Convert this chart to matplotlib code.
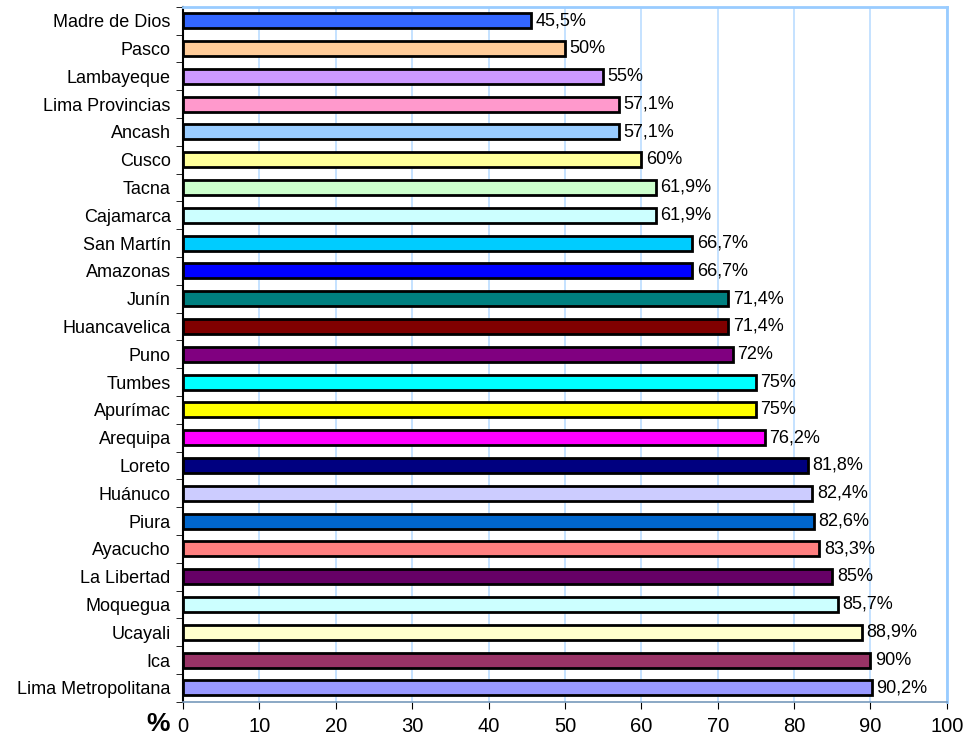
import matplotlib
matplotlib.use("Agg")
import matplotlib.pyplot as plt
import numpy as np

plt.rcParams['font.family'] = ['Liberation Sans', 'DejaVu Sans']

# data, top to bottom as in the picture
regions = ["Madre de Dios", "Pasco", "Lambayeque", "Lima Provincias", "Ancash",
           "Cusco", "Tacna", "Cajamarca", "San Martín", "Amazonas", "Junín",
           "Huancavelica", "Puno", "Tumbes", "Apurímac", "Arequipa", "Loreto",
           "Huánuco", "Piura", "Ayacucho", "La Libertad", "Moquegua", "Ucayali",
           "Ica", "Lima Metropolitana"]
values = [45.5, 50, 55, 57.1, 57.1, 60, 61.9, 61.9, 66.7, 66.7, 71.4, 71.4, 72,
          75, 75, 76.2, 81.8, 82.4, 82.6, 83.3, 85, 85.7, 88.9, 90, 90.2]
labels = ["45,5%", "50%", "55%", "57,1%", "57,1%", "60%", "61,9%", "61,9%",
          "66,7%", "66,7%", "71,4%", "71,4%", "72%", "75%", "75%", "76,2%",
          "81,8%", "82,4%", "82,6%", "83,3%", "85%", "85,7%", "88,9%", "90%",
          "90,2%"]
colors = ["#3366FF", "#FFCC99", "#CC99FF", "#FF99CC", "#99CCFF", "#FFFF99",
          "#CCFFCC", "#CCFFFF", "#00CCFF", "#0000FF", "#008080", "#800000",
          "#800080", "#00FFFF", "#FFFF00", "#FF00FF", "#000080", "#CCCCFF",
          "#0066CC", "#FF8080", "#660066", "#CCFFFF", "#FFFFCC", "#993366",
          "#9999FF"]

fig = plt.figure(figsize=(9.69, 7.45), dpi=100)
ax = fig.add_axes([0.189, 0.058, 0.788, 0.933])

y = np.arange(len(regions))
ax.barh(y, values, height=0.54, color=colors, edgecolor="black", linewidth=2, zorder=3)

for yi, v, lab in zip(y, values, labels):
    ax.text(v + 0.6, yi, lab, va="center", ha="left", fontsize=13, zorder=4)

ax.set_xlim(0, 100)
ax.set_ylim(len(regions) - 0.5, -0.5)
ax.set_xticks(np.arange(0, 101, 10))
ax.tick_params(axis="x", labelsize=14.5, length=5, pad=6, color="black")
ax.set_yticks(y)
ax.set_yticklabels(regions, fontsize=13)
ax.set_yticks(np.arange(-0.5, len(regions), 1), minor=True)
ax.tick_params(axis="y", which="major", length=0, pad=9)
ax.tick_params(axis="y", which="minor", length=5)

ax.grid(axis="x", color="#BBDDFF", linewidth=1.2, zorder=0)
for s in ["top", "right"]:
    ax.spines[s].set_color("#99CCFF")
    ax.spines[s].set_linewidth(2)
ax.spines["left"].set_color("black")
ax.spines["left"].set_linewidth(1.5)
ax.spines["bottom"].set_color("#7799BB")
ax.spines["bottom"].set_linewidth(1.2)

fig.text(0.163, 0.028, "%", fontsize=19, fontweight="bold", ha="center", va="center")

fig.savefig("out.png", dpi=100)
